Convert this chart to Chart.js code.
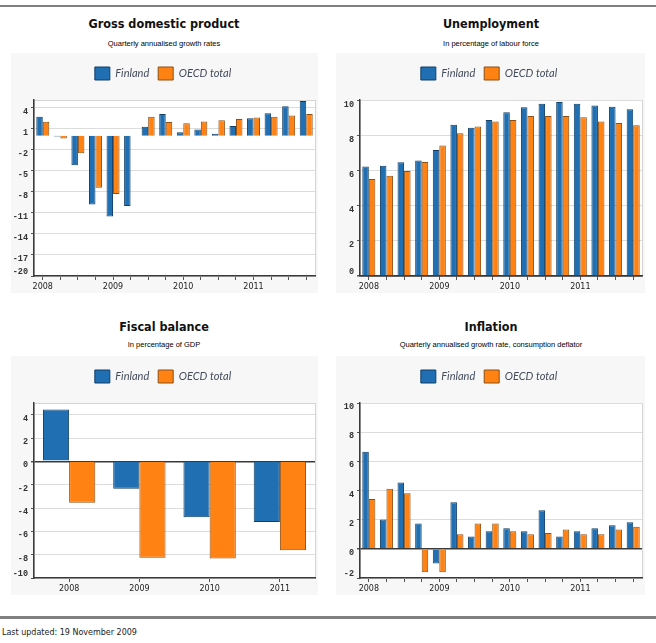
<!DOCTYPE html>
<html>
<head>
<meta charset="utf-8">
<script src="https://cdn.jsdelivr.net/npm/chart.js@4.4.1/dist/chart.umd.min.js"></script>
<style>
  body { margin: 0; background: #fff; width: 656px; height: 643px; position: relative; overflow: hidden; font-family: "DejaVu Sans", sans-serif; }
  .rule { position: absolute; left: 0; width: 656px; background: #808080; }
  .title { position: absolute; width: 320px; text-align: center; font: bold 12.5px "DejaVu Sans Condensed", "DejaVu Sans", sans-serif; color: #111; line-height: 16px; }
  .sub { position: absolute; width: 320px; text-align: center; font: 7.5px "Liberation Sans", sans-serif; color: #000; line-height: 9px; }
  .box { position: absolute; background: #f7f7f7; }
  .foot { position: absolute; left: 2px; top: 628px; font: 8px "DejaVu Sans", sans-serif; color: #222; }
</style>
</head>
<body>
<div class="rule" style="top:5px;height:2px"></div>

<div class="title" style="left:4px;top:16px">Gross domestic product</div>
<div class="sub" style="left:4px;top:39px">Quarterly annualised growth rates</div>
<div class="box" style="left:11px;top:53px;width:307px;height:240px"><canvas id="gdp"></canvas></div>

<div class="title" style="left:331px;top:16px">Unemployment</div>
<div class="sub" style="left:331px;top:39px">In percentage of labour force</div>
<div class="box" style="left:336px;top:53px;width:309px;height:240px"><canvas id="unemp"></canvas></div>

<div class="title" style="left:4px;top:319px">Fiscal balance</div>
<div class="sub" style="left:4px;top:340px">In percentage of GDP</div>
<div class="box" style="left:11px;top:356px;width:307px;height:239px"><canvas id="fiscal"></canvas></div>

<div class="title" style="left:331px;top:319px">Inflation</div>
<div class="sub" style="left:331px;top:340px">Quarterly annualised growth rate, consumption deflator</div>
<div class="box" style="left:336px;top:356px;width:309px;height:239px"><canvas id="infl"></canvas></div>

<div class="rule" style="top:616px;height:3px"></div>
<div class="foot">Last updated: 19 November 2009</div>

<script>
// quarters 2008Q1 - 2011Q4
const quarters = ['2008 Q1','2008 Q2','2008 Q3','2008 Q4','2009 Q1','2009 Q2','2009 Q3','2009 Q4',
                  '2010 Q1','2010 Q2','2010 Q3','2010 Q4','2011 Q1','2011 Q2','2011 Q3','2011 Q4'];
const quarterTickLabels = ['2008','','','','2009','','','','2010','','','','2011','','',''];
const years = ['2008','2009','2010','2011'];

const gdpFinland = [2.7, -0.1, -4.2, -9.8, -11.5, -10.0, 1.3, 3.1, 0.5, 0.9, 0.3, 1.4, 2.5, 3.2, 4.2, 4.95];
const gdpOecd    = [2.0, -0.4, -2.5, -7.4, -8.3, 0, 2.7, 1.95, 1.8, 2.05, 2.2, 2.4, 2.6, 2.7, 2.9, 3.1];
const gdpTicks   = [-20, -17, -14, -11, -8, -5, -2, 1, 4];

const unempFinland = [6.25, 6.3, 6.5, 6.6, 7.2, 8.63, 8.46, 8.91, 9.35, 9.64, 9.83, 9.94, 9.83, 9.73, 9.66, 9.52];
const unempOecd    = [5.54, 5.73, 6.0, 6.51, 7.45, 8.15, 8.53, 8.82, 8.91, 9.14, 9.14, 9.14, 9.07, 8.82, 8.74, 8.61];
const unempTicks   = [0, 2, 4, 6, 8, 10];

const fiscalFinland = [4.44, -2.34, -4.8, -5.2];
const fiscalOecd    = [-3.56, -8.26, -8.32, -7.63];
const fiscalTicks   = [-10, -8, -6, -4, -2, 0, 2, 4];

const inflFinland = [6.66, 2.02, 4.55, 1.73, -1.0, 3.2, 0.84, 1.2, 1.41, 1.2, 2.64, 0.84, 1.2, 1.41, 1.61, 1.82];
const inflOecd    = [3.41, 4.12, 3.82, -1.6, -1.6, 1.0, 1.73, 1.73, 1.2, 1.0, 1.09, 1.32, 1.0, 1.0, 1.32, 1.52];
const inflTicks   = [-2, 0, 2, 4, 6, 8, 10];

const BLUE = '#1f6fb2', BLUE_EDGE = '#123f66';
const ORANGE = '#ff8213', ORANGE_EDGE = '#8f4f12';

// white plot area with a light frame, fixed legend height, y labels nudged like the original
const plotBg = {
  id: 'plotBg',
  beforeInit(chart) {
    const fit = chart.legend.fit;
    chart.legend.fit = function () { fit.bind(chart.legend)(); this.height = 42; };
  },
  beforeDraw(chart) {
    const { ctx, chartArea: a } = chart;
    ctx.save();
    ctx.fillStyle = '#fff';
    ctx.fillRect(a.left, a.top, a.right - a.left, a.bottom - a.top);
    ctx.strokeStyle = '#d4d4d4';
    ctx.lineWidth = 1;
    ctx.strokeRect(a.left + 0.5, a.top + 0.5, a.right - a.left, a.bottom - a.top);
    ctx.restore();

    const y = chart.scales.y;
    const items = y.getLabelItems(a);
    if (!items._nudged) {
      items.forEach((it, i) => {
        const t = it.options && it.options.translation;
        if (t) t[1] += (i === 0 ? -4 : 4);
      });
      items._nudged = true;
    }
  }
};

function makeChart(id, labels, tickLabels, finland, oecd, yMin, yMax, yTicks, yWidth, catPct) {
  new Chart(document.getElementById(id), {
    type: 'bar',
    data: {
      labels: labels,
      datasets: [
        { label: 'Finland', data: finland, backgroundColor: BLUE, borderColor: BLUE_EDGE, borderWidth: 1 },
        { label: 'OECD total', data: oecd, backgroundColor: ORANGE, borderColor: ORANGE_EDGE, borderWidth: 1 }
      ]
    },
    options: {
      responsive: true,
      maintainAspectRatio: false,
      animation: false,
      datasets: { bar: { categoryPercentage: catPct, barPercentage: 1 } },
      layout: { padding: { top: 5, left: 0, right: 3, bottom: 0 } },
      plugins: {
        title: { display: false },
        tooltip: { enabled: false },
        legend: {
          display: true,
          labels: {
            boxWidth: 15, boxHeight: 13, padding: 9,
            color: '#444c5c',
            font: { family: 'Lato', style: 'italic', size: 11 }
          }
        }
      },
      scales: {
        x: {
          offset: true,
          grid: { offset: false, drawOnChartArea: false, drawTicks: true, tickLength: 4, color: '#555' },
          border: { display: true, color: '#3a3a3a', width: 1.5 },
          ticks: {
            autoSkip: false, maxRotation: 0, minRotation: 0, padding: 2,
            color: '#222', font: { family: 'DejaVu Sans', size: 8 },
            callback: (v, i) => tickLabels[i]
          },
          afterFit: s => { s.height = 17; }
        },
        y: {
          min: yMin, max: yMax,
          afterBuildTicks: s => { s.ticks = yTicks.map(v => ({ value: v })); },
          grid: {
            color: c => (c.tick && c.tick.value === 0) ? '#3a3a3a' : '#dcdcdc',
            lineWidth: c => (c.tick && c.tick.value === 0) ? 1.5 : 1,
            tickLength: 3, tickColor: '#555'
          },
          border: { display: true, color: '#3a3a3a', width: 1.5 },
          ticks: {
            padding: 3,
            color: '#333', font: { family: 'Liberation Mono', weight: 'bold', size: 8.5 }
          },
          afterFit: s => { s.width = yWidth; }
        }
      }
    },
    plugins: [plotBg]
  });
}

makeChart('gdp', quarters, quarterTickLabels, gdpFinland, gdpOecd, -20, 5.1, gdpTicks, 23, 0.74);
makeChart('unemp', quarters, quarterTickLabels, unempFinland, unempOecd, 0, 10.05, unempTicks, 24, 0.74);
makeChart('fiscal', years, years, fiscalFinland, fiscalOecd, -10, 5, fiscalTicks, 23, 0.745);
makeChart('infl', quarters, quarterTickLabels, inflFinland, inflOecd, -2, 10, inflTicks, 24, 0.74);
</script>
</body>
</html>
